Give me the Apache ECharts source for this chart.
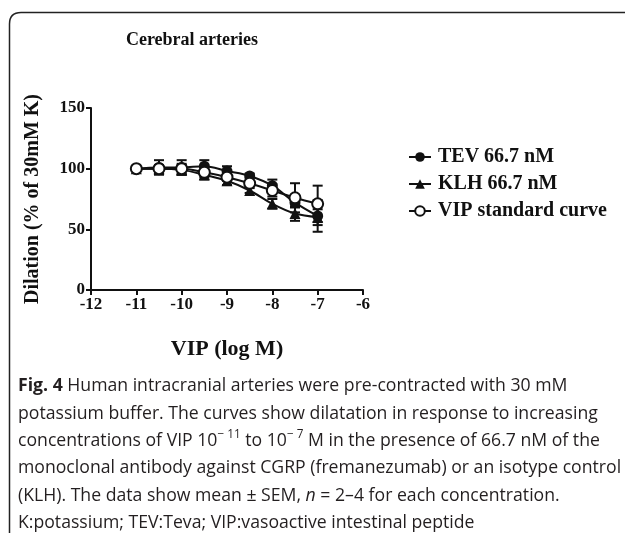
<!DOCTYPE html>
<html>
<head>
<meta charset="utf-8">
<script src="https://cdn.jsdelivr.net/npm/echarts@6/dist/echarts.min.js"></script>
<style>
html,body{margin:0;padding:0;background:#fff;}
#chart{width:625px;height:533px;}
</style>
</head>
<body>
<div id="chart"></div>
<script>
// ---- data ----
const logVIP = [-11, -10.5, -10, -9.5, -9, -8.5, -8, -7.5, -7];
const tevMean = [100, 101, 101, 102, 98, 94, 86, 72, 61];
const tevSem  = [0, 6, 6, 5, 4, 2, 5, 4, 13];
const klhMean = [100, 100, 99, 95, 90, 82, 71, 63, 60];
const klhSem  = [0, 3, 4, 4, 3.5, 2, 4, 6, 6.5];
const vipMean = [100, 100, 100, 97, 93, 88, 82, 76, 71];
const vipSem  = [0, 3, 4, 4, 3, 2, 5, 12, 15];
const seriesNames = ['TEV 66.7 nM', 'KLH 66.7 nM', 'VIP standard curve'];
const xTicks = [-12, -11, -10, -9, -8, -7, -6];
const yTicks = [0, 50, 100, 150];
const titleText = 'Cerebral arteries';
const xAxisName = 'VIP (log M)';
const yAxisName = 'Dilation (% of 30mM K)';

const serif = '"Liberation Serif", "Times New Roman", serif';
const chart = echarts.init(document.getElementById('chart'), null, {renderer: 'canvas'});

function pts(means) { return logVIP.map((x, i) => [x, means[i]]); }
function errPts(means, sems) { return logVIP.map((x, i) => [x, means[i], sems[i]]); }

function errRender(params, api) {
  const x = api.value(0), y = api.value(1), e = api.value(2);
  if (!e) return null;
  const t = api.coord([x, y + e]);
  const b = api.coord([x, y - e]);
  const w = 5;
  const st = {stroke: '#111', lineWidth: 2};
  return {
    type: 'group',
    children: [
      {type: 'line', shape: {x1: t[0], y1: t[1], x2: b[0], y2: b[1]}, style: st},
      {type: 'line', shape: {x1: t[0] - w, y1: t[1], x2: t[0] + w, y2: t[1]}, style: st},
      {type: 'line', shape: {x1: b[0] - w, y1: b[1], x2: b[0] + w, y2: b[1]}, style: st}
    ]
  };
}

function lineSeries(name, means, symbol, fill) {
  return {
    name: name, type: 'line', data: pts(means), smooth: 0.35,
    symbol: symbol, symbolSize: 11,
    color: '#111',
    lineStyle: {color: '#111', width: 2},
    itemStyle: {color: fill, borderColor: '#111', borderWidth: fill === '#fff' ? 2 : 0},
    z: 3
  };
}
function errSeries(name, means, sems) {
  return {name: name + ' (SEM)', type: 'custom', renderItem: errRender, data: errPts(means, sems),
    color: '#111', z: 2, silent: true};
}

const capFont = '"Open Sans", "Noto Sans", sans-serif';
const capSize = 18;
const capScale = 0.98;
const capLines = [
  '{b|Fig. 4} Human intracranial arteries were pre-contracted with 30 mM',
  'potassium buffer. The curves show dilatation in response to increasing',
  'concentrations of VIP 10{s|− 11} to 10{s|− 7} M in the presence of 66.7 nM of the',
  'monoclonal antibody against CGRP (fremanezumab) or an isotype control',
  '(KLH). The data show mean ± SEM, {i|n} = 2–4 for each concentration.',
  'K:potassium; TEV:Teva; VIP:vasoactive intestinal peptide'
];
const capGraphics = capLines.map((t, i) => ({
  type: 'text', x: 18, y: 386 + i * 27.4, scaleX: capScale,
  style: {
    text: t, fill: '#231f20', fontFamily: capFont, fontSize: capSize, verticalAlign: 'middle',
    rich: {
      b: {fontFamily: capFont, fontSize: capSize, fontWeight: 'bold', fill: '#231f20'},
      s: {fontFamily: capFont, fontSize: 12, fill: '#231f20', padding: [0, 0, 12, 0]},
      i: {fontFamily: capFont, fontSize: capSize, fontStyle: 'italic', fill: '#231f20'}
    }
  }
}));

const frameStyle = {fill: null, stroke: '#222', lineWidth: 1.5};

chart.setOption({
  animation: false,
  backgroundColor: '#fff',
  title: {
    text: titleText, left: 187, top: 26, textAlign: 'center',
    textStyle: {fontFamily: serif, fontSize: 18, fontWeight: 'bold', color: '#111'}
  },
  legend: {
    orient: 'vertical', left: 403, top: 142, itemGap: 7, itemWidth: 22, itemHeight: 12,
    data: seriesNames,
    textStyle: {fontFamily: serif, fontSize: 20, fontWeight: 'bold', color: '#111', padding: [0, 0, 0, 2]}
  },
  grid: {left: 91, right: 262, top: 108, bottom: 243, containLabel: false},
  xAxis: {
    type: 'value', min: xTicks[0], max: xTicks[xTicks.length - 1], interval: 1,
    name: xAxisName, nameLocation: 'middle', nameGap: 48,
    nameTextStyle: {fontFamily: serif, fontSize: 22, fontWeight: 'bold', color: '#111'},
    axisLine: {lineStyle: {color: '#111', width: 2}},
    axisTick: {length: 5, lineStyle: {color: '#111', width: 2}},
    axisLabel: {fontFamily: serif, fontSize: 17, fontWeight: 'bold', color: '#111', margin: 6},
    splitLine: {show: false}
  },
  yAxis: {
    type: 'value', min: yTicks[0], max: yTicks[yTicks.length - 1], interval: 50,
    name: yAxisName, nameLocation: 'middle', nameGap: 48,
    nameTextStyle: {fontFamily: serif, fontSize: 20, fontWeight: 'bold', color: '#111'},
    axisLine: {show: true, lineStyle: {color: '#111', width: 2}},
    axisTick: {show: true, length: 5, lineStyle: {color: '#111', width: 2}},
    axisLabel: {fontFamily: serif, fontSize: 17, fontWeight: 'bold', color: '#111', margin: 6},
    splitLine: {show: false}
  },
  graphic: [
    {type: 'polyline', shape: {points: [[9.5, 533], [9.5, 24]]}, style: frameStyle},
    {type: 'bezierCurve', shape: {x1: 9.5, y1: 24, cpx1: 9.5, cpy1: 12.5, x2: 21, y2: 12.5}, style: frameStyle},
    {type: 'polyline', shape: {points: [[21, 12.5], [625, 12.5]]}, style: frameStyle}
  ].concat(capGraphics),
  series: [
    errSeries(seriesNames[0], tevMean, tevSem),
    errSeries(seriesNames[1], klhMean, klhSem),
    errSeries(seriesNames[2], vipMean, vipSem),
    lineSeries(seriesNames[0], tevMean, 'circle', '#111'),
    lineSeries(seriesNames[1], klhMean, 'triangle', '#111'),
    lineSeries(seriesNames[2], vipMean, 'circle', '#fff')
  ]
});
</script>
</body>
</html>
